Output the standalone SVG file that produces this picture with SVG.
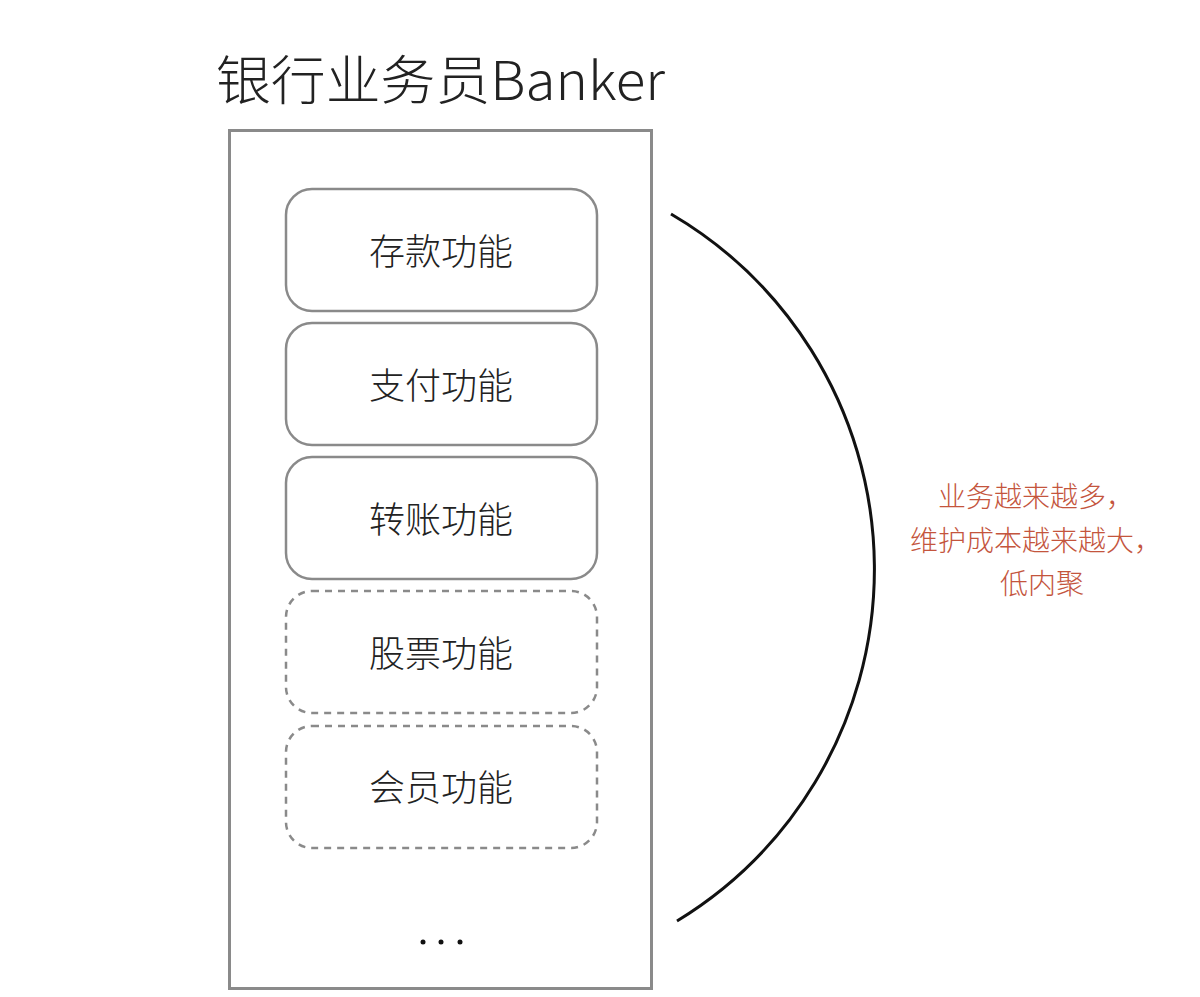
<svg xmlns="http://www.w3.org/2000/svg" width="1200" height="997" viewBox="0 0 1200 997">
<style>
.t{font-family:"Noto Sans CJK SC","Liberation Sans",sans-serif;fill:#222;}
.box{fill:none;stroke:#8a8a8a;stroke-width:2.5;}
.dash{fill:none;stroke:#8a8a8a;stroke-width:2.5;stroke-dasharray:7 6;}
.lbl{font-family:"Noto Sans CJK SC","Liberation Sans",sans-serif;font-size:36px;fill:#222;text-anchor:middle;dominant-baseline:central;font-weight:300;}
.red{font-family:"Noto Sans CJK SC","Liberation Sans",sans-serif;font-size:28px;fill:#c4553d;text-anchor:middle;font-weight:300;}
</style>
<rect width="1200" height="997" fill="#ffffff"/>
<g id="banker">
<text class="t" x="216" y="100" font-size="53" font-weight="300" textLength="449" lengthAdjust="spacingAndGlyphs">银行业务员Banker</text>
<rect x="229.5" y="130.5" width="422" height="858" fill="none" stroke="#8a8a8a" stroke-width="3"/>
</g>
<g id="n1"><rect class="box" x="286" y="189" width="311" height="122" rx="26"/><text class="lbl" x="441" y="249">存款功能</text></g>
<g id="n2"><rect class="box" x="286" y="323" width="311" height="122" rx="26"/><text class="lbl" x="441" y="383">支付功能</text></g>
<g id="n3"><rect class="box" x="286" y="457" width="311" height="122" rx="26"/><text class="lbl" x="441" y="517">转账功能</text></g>
<g id="n4"><rect class="dash" x="286" y="591" width="311" height="122" rx="26"/><text class="lbl" x="441" y="651">股票功能</text></g>
<g id="n5"><rect class="dash" x="286" y="726" width="311" height="122" rx="26"/><text class="lbl" x="441" y="785">会员功能</text></g>
<g id="dots">
<circle cx="423" cy="942" r="2.5" fill="#111"/>
<circle cx="441" cy="942" r="2.5" fill="#111"/>
<circle cx="460" cy="942" r="2.5" fill="#111"/>
</g>
<g id="connectors">
<path d="M 671 214 A 412 412 0 0 1 677 921" fill="none" stroke="#111" stroke-width="3"/>
</g>
<g id="note">
<text class="red" x="1036" y="507">业务越来越多，</text>
<text class="red" x="1036" y="551">维护成本越来越大，</text>
<text class="red" x="1042" y="594">低内聚</text>
</g>
</svg>
